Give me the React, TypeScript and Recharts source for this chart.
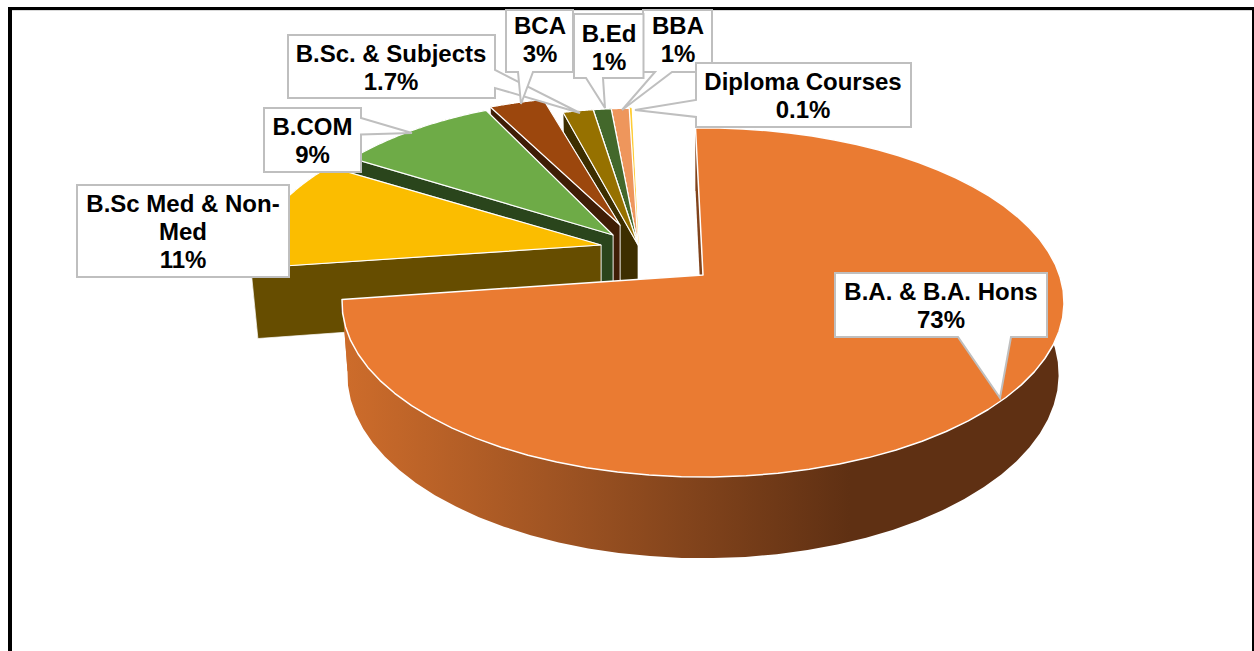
import { PieChart, Pie } from 'recharts';

// clockwise from the top, as printed on the chart
const courses = ['B.A. & B.A. Hons', 'B.Sc Med & Non-Med', 'B.COM', 'BCA', 'B.Sc. & Subjects', 'B.Ed', 'BBA', 'Diploma Courses'];
const shares = [73, 11, 9, 3, 1.7, 1, 1, 0.1];
const shareLabels = ['73%', '11%', '9%', '3%', '1.7%', '1%', '1%', '0.1%'];

const topColors = ['#ea7b32', '#fbbd00', '#6eab47', '#9c470d', '#967100', '#43682b', '#ee965c', '#ffcd33'];
const wallColors = ['url(#orangeWall)', '#664d00', '#2a451c', '#3f1d06', '#3d2e00', '#3d2e00', '#3d2e00', '#3d2e00'];

// how far each slice is pulled out of the pie, px on screen, and its radius factor
const explodeX = [0, -102, -90, -83, -65, -65, -65, -65];
const explodeY = [0, -30, -40, -50, -30, -30, -30, -30];
const radiusX = [1, 0.97, 0.93, 0.95, 0.93, 0.93, 0.93, 0.93];
const radiusY = [1, 0.95, 0.93, 0.88, 0.93, 0.93, 0.93, 0.93];

// pie is drawn back to front so nearer slices cover the walls behind them
const rows = courses.map((name, i) => ({ name, value: shares[i] })).reverse();

const CX = 703;
const CY = 275;
const RADIUS = 356.5;
const SQUASH = 0.4775;
const PERSPECTIVE = 0.1576;
const STEPS = 60;

type Pt = [number, number];

const toPath = (pts: Pt[]) => 'M' + pts.map(p => `${p[0].toFixed(1)},${p[1].toFixed(1)}`).join('L') + 'Z';

const SliceShape = (props: any) => {
  const { cx, cy, outerRadius, startAngle, endAngle } = props;
  const name = props.payload?.name ?? props.name;
  const i = courses.indexOf(name);
  const vx = cx + explodeX[i];
  const vy = cy + explodeY[i];
  const isMain = i === 0;

  const project = (angle: number): Pt => {
    const t = ((90 - angle) * Math.PI) / 180;
    const X = Math.sin(t);
    const Y = -Math.cos(t);
    const w = 1 - PERSPECTIVE * Y;
    return [vx + (radiusX[i] * outerRadius * X) / w, vy + (radiusY[i] * outerRadius * SQUASH * Y) / w];
  };
  const lower = (p: Pt): Pt => [vx + (p[0] - vx) * (isMain ? 0.985 : 0.98), 374 + (p[1] - 302) * 1.052];

  const a0 = Math.min(startAngle, endAngle);
  const a1 = Math.max(startAngle, endAngle);
  const arc: Pt[] = [];
  for (let s = 0; s <= STEPS; s++) arc.push(project(a0 + ((a1 - a0) * s) / STEPS));

  const vertex: Pt = [vx, vy];
  const first = arc[0];
  const last = arc[arc.length - 1];
  const wallStroke = isMain ? 'none' : '#fff';
  // the 0.1% slice is thinner than a white outline would leave room for
  const topStroke = i === 7 ? topColors[7] : '#fff';

  return (
    <g>
      {isMain && (
        <defs>
          <linearGradient id="orangeWall" gradientUnits="userSpaceOnUse" x1={345} y1={0} x2={850} y2={0}>
            <stop offset="0" stopColor="#cd6c2b" />
            <stop offset="0.45" stopColor="#9c5222" />
            <stop offset="1" stopColor="#5f3013" />
          </linearGradient>
        </defs>
      )}
      <path d={toPath([...arc, ...arc.map(lower).reverse()])} fill={wallColors[i]} stroke={wallStroke} strokeWidth={0.7} />
      <path d={toPath([vertex, first, lower(first), lower(vertex)])} fill={wallColors[i]} stroke={wallStroke} strokeWidth={0.7} />
      <path d={toPath([vertex, last, lower(last), lower(vertex)])} fill={wallColors[i]} stroke={wallStroke} strokeWidth={0.7} />
      {isMain && (
        <path d={toPath([[vx, vy + 4], [vx - 5, vy + 4], [first[0] - 1.5, first[1] + 13], first])} fill="#5f3013" />
      )}
      <path d={toPath([vertex, ...arc])} fill={topColors[i]} stroke={topStroke} strokeWidth={isMain ? 1.5 : 1.2} strokeLinejoin="round" />
    </g>
  );
};

// callout outlines and text, in the stacking order of the picture
const callouts = [
  { at: 4, path: 'M288,35H495V70L580,113L495,88V98H288Z', x: 391, y: 62, lines: ['B.Sc. & Subjects', '1.7%'] },
  { at: 3, path: 'M506,10H573V72H533L521,104L518,72H506Z', x: 540, y: 34, lines: ['BCA', '3%'] },
  { at: 6, path: 'M643,10H712V72H672L622,110L655,72H643Z', x: 678, y: 34, lines: ['BBA', '1%'] },
  { at: 5, path: 'M574,14H643.5V78H603L605,108L586,78H574Z', x: 609, y: 42, lines: ['B.Ed', '1%'] },
  { at: 7, path: 'M696,63H911V127H696V117L635,110L696,100Z', x: 803, y: 90, lines: ['Diploma Courses', '0.1%'] },
  { at: 2, path: 'M264,108H361V118L412,133L361,134.5V172H264Z', x: 312.5, y: 135, lines: ['B.COM', '9%'] },
  { at: 1, path: 'M77,185H289V277H77Z', x: 183, y: 212, lines: ['B.Sc Med & Non-', 'Med', '11%'] },
  { at: 0, path: 'M835,273H1047V337H1011L1000,398L958,337H835Z', x: 941, y: 300, lines: ['B.A. & B.A. Hons', '73%'] },
];

const App = () => {
  return (
    <div style={{ position: 'absolute', left: 0, top: 0, width: 1254, height: 651, overflow: 'hidden', background: '#fff' }}>
      <div style={{ position: 'absolute', left: 8, top: 7, width: 1246, height: 3, background: '#000' }} />
      <div style={{ position: 'absolute', left: 12, top: 10, width: 1240, height: 1, background: '#d9d9d9' }} />
      <div style={{ position: 'absolute', left: 8, top: 7, width: 4, height: 644, background: '#000' }} />
      <div style={{ position: 'absolute', left: 1252, top: 7, width: 2, height: 644, background: '#000' }} />
      <div style={{ position: 'absolute', left: 0, top: 0 }}>
        <PieChart width={1254} height={651} margin={{ top: 0, right: 0, bottom: 0, left: 0 }}>
          <Pie
            data={rows}
            dataKey="value"
            nameKey="name"
            cx={CX}
            cy={CY}
            outerRadius={RADIUS}
            startAngle={91.4}
            endAngle={451.4}
            stroke="none"
            shape={SliceShape}
            isAnimationActive={false}
          />
        </PieChart>
      </div>
      <svg width={1254} height={651} style={{ position: 'absolute', left: 0, top: 0 }}>
        {callouts.map(c => (
          <g key={c.at}>
            <path d={c.path} fill="#fff" stroke="#bfbfbf" strokeWidth={2} />
            <text x={c.x} y={c.y} textAnchor="middle" fontFamily="Liberation Sans" fontWeight="bold" fontSize={24} fill="#000">
              {[...c.lines.slice(0, -1), shareLabels[c.at]].map((line, k) => (
                <tspan key={k} x={c.x} dy={k === 0 ? 0 : 28}>{line}</tspan>
              ))}
            </text>
          </g>
        ))}
      </svg>
    </div>
  );
};

export default App;
